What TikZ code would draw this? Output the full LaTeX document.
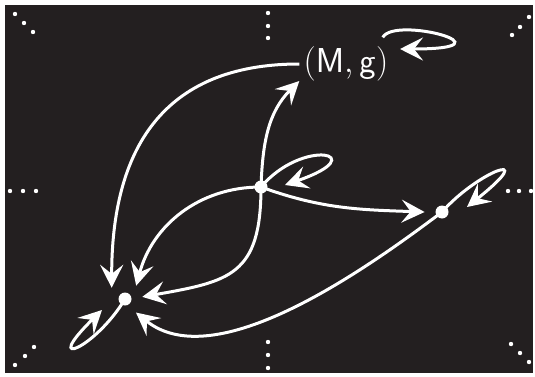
\documentclass[tikz,border=0pt]{standalone}
\usepackage{tikz}
\usetikzlibrary{arrows.meta,positioning}
\definecolor{bgdark}{RGB}{35,31,32}

\begin{document}
\begin{tikzpicture}[x=0.5pt,y=0.5pt,
  flow/.style={draw=white, line width=1.5pt, -{Stealth[length=11.5pt,width=11.5pt,inset=4.5pt]}},
  spot/.style={circle, minimum size=17pt, inner sep=0pt}]
% background
\useasboundingbox (0,0) rectangle (535,376);
\fill[bgdark] (5,3) rectangle (533,371);

% frame dots
\foreach \x/\y in {15/362,24/353,33/344, 268/363,268/350,268/338, 512/341,520/349,529/359,
                   10/185,23/185,36/185, 508/185,519/185,531/185,
                   15/11,25/20,34/29, 268/34,268/21,268/8, 511/32,520/23,529/14}
  \fill[white] (\x,\y) circle (2.2);

% points
\node[spot] (c) at (261,189) {};
\node[spot] (r) at (442,164) {};
\node[spot] (b) at (125,77) {};
\node[text=white, font=\fontsize{16}{19}\selectfont, inner sep=2pt] (mg) at (346,312) {$(\mathsf{M},\mathsf{g})$};
\foreach \n in {c,r,b} \fill[white] (\n) circle (6.5);

% arrows between
\draw[flow] (mg.west) to[out=180, in=90, looseness=1.2] (b.140);
\draw[flow] (c.center) to[out=88, in=225] (mg.-160);
\draw[flow] (c.center) to[out=180, in=75] (b.50);
\draw[flow] (c.center) to[out=-90, in=10, looseness=1.4] (b.7);
\draw[flow] (c.center) to[out=-20, in=178] (r.180);
\draw[flow] (r.center) to[out=217, in=-39, looseness=0.8] (b.-51);

% loops
\coordinate (mgtip) at (400,327);
\coordinate (ctip) at (285,191);
\coordinate (rtip) at (467,169);
\coordinate (btip) at (102,66);
\draw[flow] ([shift={(-10,5)}]mg.north east) .. controls +(12,22) and +(118,0) .. (mgtip);
\draw[flow] (c.center) .. controls +(42,50) and +(90,31) .. (ctip);
\draw[flow] (r.center) .. controls +(35,40) and +(75,60) .. (rtip);
\draw[flow] (b.center) .. controls +(-30,-50) and +(-62,-61) .. (btip);
\end{tikzpicture}
\end{document}
